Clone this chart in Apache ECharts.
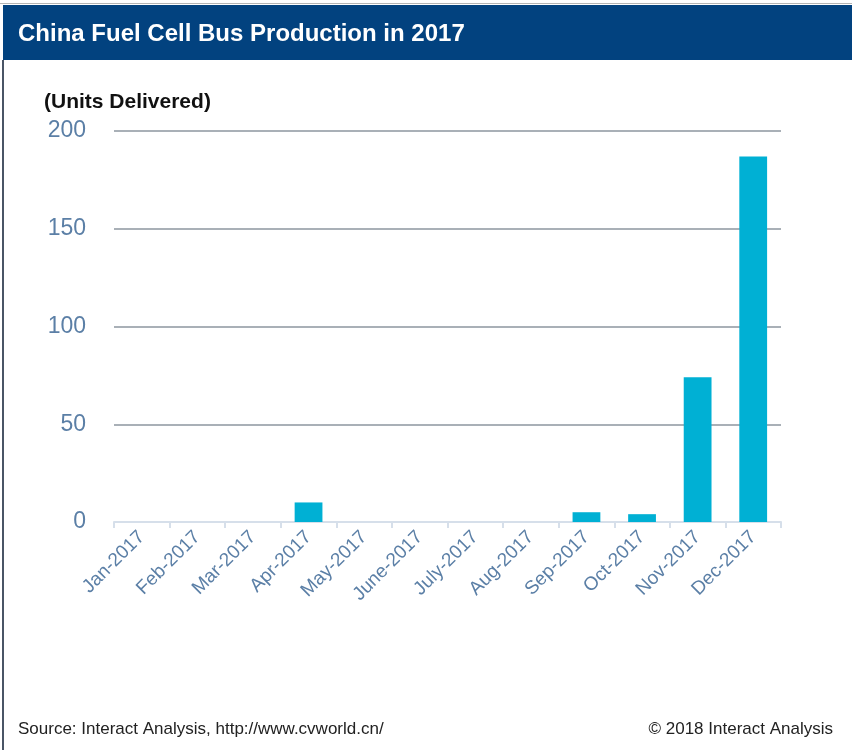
<!DOCTYPE html>
<html>
<head>
<meta charset="utf-8">
<script src="https://cdn.jsdelivr.net/npm/echarts@6/dist/echarts.min.js"></script>
<style>
  html, body { margin: 0; padding: 0; background: #ffffff; }
  #chart { width: 852px; height: 750px; }
</style>
</head>
<body>
<div id="chart"></div>
<script>
// Monthly fuel cell bus deliveries in China, 2017
const months = ['Jan-2017', 'Feb-2017', 'Mar-2017', 'Apr-2017', 'May-2017', 'June-2017',
                'July-2017', 'Aug-2017', 'Sep-2017', 'Oct-2017', 'Nov-2017', 'Dec-2017'];
const unitsDelivered = [0, 0, 0, 10, 0, 0, 0, 0, 5, 4, 74, 187];
const yTicks = { min: 0, max: 200, step: 50 };

const chart = echarts.init(document.getElementById('chart'), null, { renderer: 'canvas' });

const axisBlue = '#5b7fa6';

chart.setOption({
  backgroundColor: '#ffffff',
  animation: false,
  grid: { left: 114, right: 71, top: 131, bottom: 228, containLabel: false },
  xAxis: {
    type: 'category',
    data: months,
    boundaryGap: true,
    axisLine: { show: true, lineStyle: { color: '#d6dfea', width: 2 } },
    axisTick: { show: true, length: 6, lineStyle: { color: '#d6dfea', width: 2 } },
    axisLabel: {
      rotate: 45,
      interval: 0,
      margin: 12,
      color: axisBlue,
      fontFamily: 'Liberation Sans, Arial, sans-serif',
      fontSize: 19
    },
    splitLine: { show: false }
  },
  yAxis: {
    type: 'value',
    min: yTicks.min,
    max: yTicks.max,
    interval: yTicks.step,
    axisLine: { show: false },
    axisTick: { show: false },
    axisLabel: {
      margin: 28,
      color: axisBlue,
      fontFamily: 'Liberation Sans, Arial, sans-serif',
      fontSize: 23,
      padding: [5, 0, 0, 0]
    },
    splitLine: {
      show: true,
      lineStyle: { color: '#a9b0b7', width: 2 }
    }
  },
  series: [{
    type: 'bar',
    data: unitsDelivered,
    barWidth: '50%',
    itemStyle: { color: '#00b0d4' },
    z: 3
  }],
  graphic: [
    // thin frame line along the top
    { type: 'rect', shape: { x: 0, y: 3, width: 852, height: 1 }, style: { fill: '#b5b5b5' }, silent: true },
    // title banner
    { type: 'rect', shape: { x: 3, y: 5, width: 849, height: 55 }, style: { fill: '#02427f' }, silent: true },
    {
      type: 'text', left: 18, top: 22, silent: true,
      style: {
        text: 'China Fuel Cell Bus Production in 2017',
        fill: '#ffffff',
        font: 'bold 24px "Liberation Sans", Arial, sans-serif'
      }
    },
    // left frame edge
    { type: 'rect', shape: { x: 2, y: 60, width: 2, height: 690 }, style: { fill: '#4a5566' }, silent: true },
    {
      type: 'text', left: 44, top: 92, silent: true,
      style: {
        text: '(Units Delivered)',
        fill: '#111111',
        font: 'bold 21px "Liberation Sans", Arial, sans-serif'
      }
    },
    {
      type: 'text', left: 18, top: 721, silent: true,
      style: {
        text: 'Source: Interact Analysis, http://www.cvworld.cn/',
        fill: '#222222',
        font: '17px "Liberation Sans", Arial, sans-serif'
      }
    },
    {
      type: 'text', right: 19, top: 721, silent: true,
      style: {
        text: '© 2018 Interact Analysis',
        fill: '#222222',
        font: '17px "Liberation Sans", Arial, sans-serif'
      }
    }
  ]
});
</script>
</body>
</html>
